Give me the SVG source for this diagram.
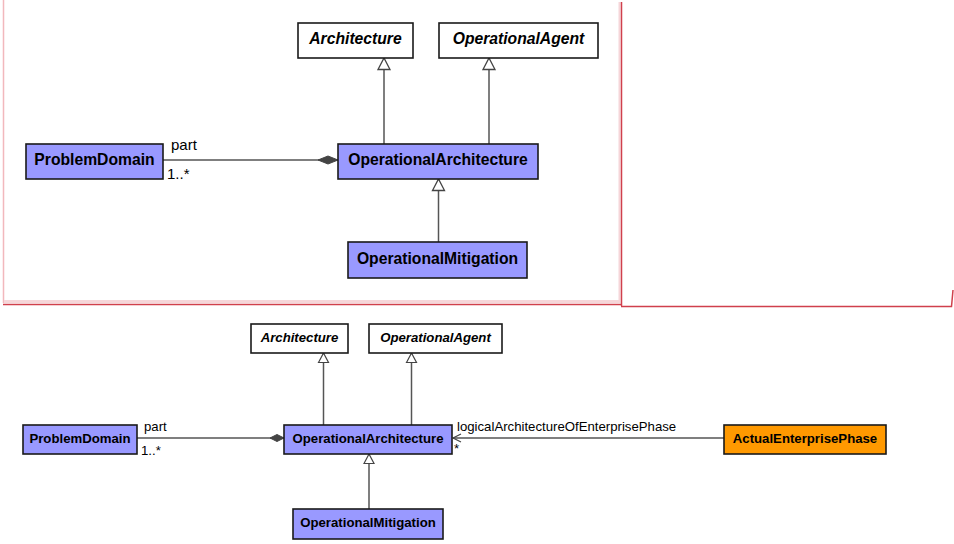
<svg xmlns="http://www.w3.org/2000/svg" width="954" height="544" viewBox="0 0 954 544">
<style>
.cls{fill:#9999FF;stroke:#1a1a1a;stroke-width:1.6}
.abs{fill:#ffffff;stroke:#1a1a1a;stroke-width:1.6}
.org{fill:#FF9900;stroke:#1a1a1a;stroke-width:1.6}
.t1{font-family:"Liberation Sans",Arial,sans-serif;font-weight:bold;font-size:15.7px;fill:#000;text-anchor:middle}
.t2{font-family:"Liberation Sans",Arial,sans-serif;font-weight:bold;font-size:13.2px;fill:#000;text-anchor:middle}
.it{font-style:italic}
.l1{font-family:"Liberation Sans",Arial,sans-serif;font-size:15px;fill:#000}
.l2{font-family:"Liberation Sans",Arial,sans-serif;font-size:13.2px;fill:#000}
.ln{fill:none;stroke:#555;stroke-width:1.5}
</style>
<defs>
<marker id="genL" markerUnits="userSpaceOnUse" markerWidth="14" markerHeight="14" refX="12" refY="6.5" orient="auto" overflow="visible">
<path d="M0.5,0.5 L12,6.5 L0.5,12.5 z" fill="#fff" stroke="#444" stroke-width="1.3"/>
</marker>
<marker id="genS" markerUnits="userSpaceOnUse" markerWidth="12" markerHeight="12" refX="10" refY="5.5" orient="auto" overflow="visible">
<path d="M0.5,0.5 L10,5.5 L0.5,10.5 z" fill="#fff" stroke="#444" stroke-width="1.2"/>
</marker>
<marker id="diaL" markerUnits="userSpaceOnUse" markerWidth="22" markerHeight="10" refX="20" refY="4" orient="auto" overflow="visible">
<path d="M0,4 L10,0 L20,4 L10,8 z" fill="#444" stroke="#444" stroke-width="1"/>
</marker>
<marker id="diaS" markerUnits="userSpaceOnUse" markerWidth="16" markerHeight="8" refX="14" refY="3.5" orient="auto" overflow="visible">
<path d="M0,3.5 L7,0 L14,3.5 L7,7 z" fill="#444" stroke="#444" stroke-width="1"/>
</marker>
<marker id="open" markerUnits="userSpaceOnUse" markerWidth="10" markerHeight="10" refX="8" refY="4.5" orient="auto" overflow="visible">
<path d="M0,0.5 L8,4.5 L0,8.5" fill="none" stroke="#444" stroke-width="1.2"/>
</marker>
</defs>

<g id="frame">
<line x1="3.5" y1="0" x2="3.5" y2="303" stroke="#f2b8bd" stroke-width="1.5"/>
<rect x="4" y="300" width="615" height="3" fill="#f6d6d9"/>
<line x1="3" y1="304.5" x2="621" y2="304.5" stroke="#d0404c" stroke-width="1.5"/>
<rect x="618.5" y="2" width="2" height="301" fill="#f6d6d9"/>
<line x1="621.5" y1="2" x2="621.5" y2="306" stroke="#d0404c" stroke-width="1.5"/>
<polyline points="621,306.5 951.5,306.5 953,290" fill="none" stroke="#d0404c" stroke-width="1.5"/>
</g>

<g id="connectors">
<path class="ln" d="M163,160 L338,160" marker-end="url(#diaL)"/>
<path class="ln" d="M384,144 L384,58" marker-end="url(#genL)"/>
<path class="ln" d="M489,144 L489,58" marker-end="url(#genL)"/>
<path class="ln" d="M438.5,242 L438.5,179" marker-end="url(#genL)"/>
<text class="l1" x="171" y="150">part</text>
<text class="l1" x="167" y="179">1..*</text>

<path class="ln" d="M137,438 L284,438" marker-end="url(#diaS)"/>
<path class="ln" d="M323.5,425 L323.5,353" marker-end="url(#genS)"/>
<path class="ln" d="M411.5,425 L411.5,353" marker-end="url(#genS)"/>
<path class="ln" d="M369,509 L369,454" marker-end="url(#genS)"/>
<path class="ln" d="M724,438 L453,438" marker-end="url(#open)"/>
<text class="l2" x="144" y="431">part</text>
<text class="l2" x="141" y="455">1..*</text>
<text class="l2" x="457" y="431">logicalArchitectureOfEnterprisePhase</text>
<text class="l2" x="454" y="453">*</text>
</g>

<g id="top-Architecture">
<rect class="abs" x="298" y="23" width="115" height="35"/>
<text class="t1 it" x="355.5" y="43.5">Architecture</text>
</g>
<g id="top-OperationalAgent">
<rect class="abs" x="439" y="23" width="159" height="35"/>
<text class="t1 it" x="518.5" y="43.5">OperationalAgent</text>
</g>
<g id="top-ProblemDomain">
<rect class="cls" x="26" y="144" width="137" height="35"/>
<text class="t1" x="94.5" y="165">ProblemDomain</text>
</g>
<g id="top-OperationalArchitecture">
<rect class="cls" x="338" y="144" width="200" height="35"/>
<text class="t1" x="438" y="165">OperationalArchitecture</text>
</g>
<g id="top-OperationalMitigation">
<rect class="cls" x="348" y="242" width="179" height="36"/>
<text class="t1" x="437.5" y="264">OperationalMitigation</text>
</g>

<g id="bot-Architecture">
<rect class="abs" x="251" y="324" width="97" height="29"/>
<text class="t2 it" x="299.5" y="341.5">Architecture</text>
</g>
<g id="bot-OperationalAgent">
<rect class="abs" x="369" y="324" width="133" height="29"/>
<text class="t2 it" x="435.5" y="341.5">OperationalAgent</text>
</g>
<g id="bot-ProblemDomain">
<rect class="cls" x="23" y="425" width="114" height="29"/>
<text class="t2" x="80" y="442.5">ProblemDomain</text>
</g>
<g id="bot-OperationalArchitecture">
<rect class="cls" x="284" y="425" width="168" height="29"/>
<text class="t2" x="368" y="442.5">OperationalArchitecture</text>
</g>
<g id="bot-ActualEnterprisePhase">
<rect class="org" x="724" y="425" width="162" height="29"/>
<text class="t2" x="805" y="442.5">ActualEnterprisePhase</text>
</g>
<g id="bot-OperationalMitigation">
<rect class="cls" x="293" y="509" width="150" height="30"/>
<text class="t2" x="368" y="527">OperationalMitigation</text>
</g>
</svg>
